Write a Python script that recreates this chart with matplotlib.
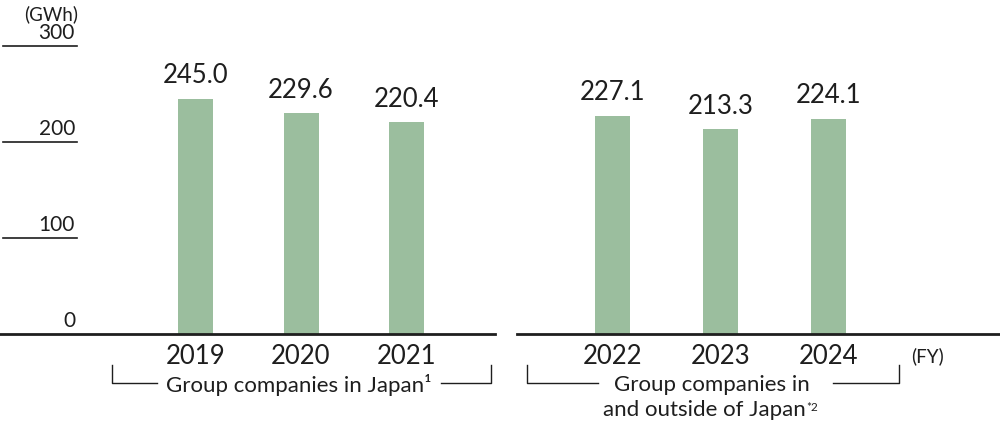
import matplotlib
matplotlib.use("Agg")
import matplotlib.pyplot as plt

plt.rcParams['font.family'] = ['Lato', 'DejaVu Sans']

years_japan = ["2019", "2020", "2021"]
values_japan = [245.0, 229.6, 220.4]
years_global = ["2022", "2023", "2024"]
values_global = [227.1, 213.3, 224.1]
y_ticks = [0, 100, 200, 300]

bar_color = "#9bbe9e"
ink = "#1e1e1e"
W, H = 1000, 435

fig = plt.figure(figsize=(10, 4.35), dpi=100)
ax = fig.add_axes([0, 0, 1, 1])

# pixel layout: value 0 at y=334.5 px, 300 at y=47 px
base_px, scale = 334.5, (334.5 - 47) / 300
ax.set_xlim(0, W)
ax.set_ylim(-(H - base_px) / scale, base_px / scale)
ax.axis("off")


def fx(x):
    return x / W


def fy(y):
    return 1 - y / H


x_japan = [195.5 + 105.5 * i for i in range(len(values_japan))]
x_global = [612.5 + 108 * i for i in range(len(values_global))]

for xs, vals, yrs in [(x_japan, values_japan, years_japan),
                      (x_global, values_global, years_global)]:
    ax.bar(xs, vals, width=35, color=bar_color, zorder=2)
    for x, v, yr in zip(xs, vals, yrs):
        ax.text(x, v + 12, f"{v:.1f}", ha="center", va="bottom", fontsize=18.5, color=ink)
        fig.text(fx(x), fy(356), yr, ha="center", va="center", fontsize=18.5, color=ink)

# baselines (split in two)
ax.plot([0, 495], [0, 0], color=ink, lw=2, zorder=3)
ax.plot([517, W], [0, 0], color=ink, lw=2, zorder=3)

# y ticks
for t in y_ticks:
    if t > 0:
        ax.plot([3, 77], [t, t], color=ink, lw=1.2)
    ax.text(75, t + 4, str(t), ha="right", va="bottom", fontsize=15, color=ink)
fig.text(fx(51), fy(14), "(GWh)", ha="center", va="center", fontsize=13.5, color=ink)
fig.text(fx(927), fy(356), "(FY)", ha="center", va="center", fontsize=13.5, color=ink)


# group brackets
def bracket(x0, x1, gap0, gap1, y_top=366, y_bot=384):
    kw = dict(color=ink, lw=1, transform=fig.transFigure)
    fig.add_artist(plt.Line2D([fx(x0), fx(x0), fx(gap0)], [fy(y_top), fy(y_bot), fy(y_bot)], **kw))
    fig.add_artist(plt.Line2D([fx(gap1), fx(x1), fx(x1)], [fy(y_bot), fy(y_bot), fy(y_top)], **kw))


bracket(112, 491, 157, 441)
fig.text(fx(299), fy(385), "Group companies in Japan\u00b9", ha="center", va="center",
         fontsize=16, color=ink)

bracket(527, 899, 598, 833)
fig.text(fx(712), fy(385), "Group companies in", ha="center", va="center",
         fontsize=16, color=ink)
t2 = fig.text(fx(704), fy(410), "and outside of Japan", ha="center", va="center",
              fontsize=16, color=ink)
ax.annotate("*2", xy=(1, 0.92), xycoords=t2, xytext=(1, 0), textcoords="offset points",
            ha="left", va="top", fontsize=8.5, color=ink)

fig.savefig("out.png", dpi=100)
